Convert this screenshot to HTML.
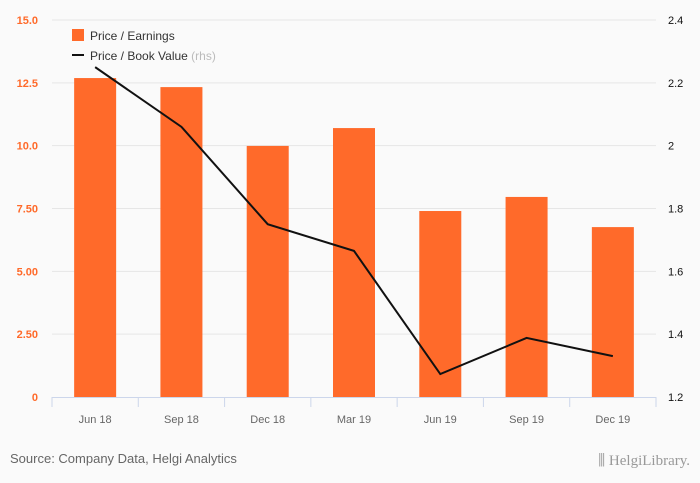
<!DOCTYPE html>
<html><head><meta charset="utf-8"><style>
html,body{margin:0;padding:0;background:#fafafa;}
svg{display:block;font-family:"Liberation Sans",sans-serif;}
</style></head><body>
<svg id="chart" width="700" height="483">
<rect width="700" height="483" fill="#fafafa"/>
<g id="grid"></g><g id="bars"></g><g id="line"></g><g id="axes"></g>
<g>
<rect x="72" y="29" width="12" height="12" fill="#ff6a2a"/>
<text x="90" y="40" font-size="12" fill="#333">Price / Earnings</text>
<line x1="72" y1="55" x2="84" y2="55" stroke="#111" stroke-width="2"/>
<text x="90" y="60" font-size="12" fill="#333">Price / Book Value <tspan fill="#bbb">(rhs)</tspan></text>
</g>
<text x="10" y="463" font-size="13" fill="#666">Source: Company Data, Helgi Analytics</text>
<text x="690" y="465" font-size="15" fill="#999" text-anchor="end" font-family="Liberation Serif,serif">⫼ HelgiLibrary.</text>
</svg>
<script>
const categories=["Jun 18","Sep 18","Dec 18","Mar 19","Jun 19","Sep 19","Dec 19"];
const peValues=[12.69,12.33,9.99,10.70,7.40,7.96,6.76];
const pbValues=[2.25,2.06,1.75,1.665,1.273,1.388,1.33];
const leftTicks=["0","2.50","5.00","7.50","10.0","12.5","15.0"];
const rightTicks=["1.2","1.4","1.6","1.8","2","2.2","2.4"];
const NS="http://www.w3.org/2000/svg";
const x0=52,x1=656,yTop=20,yBot=397;
const cw=(x1-x0)/categories.length;
const xc=i=>x0+cw*(i+0.5);
const yL=v=>yBot-(v/15)*(yBot-yTop);
const yR=v=>yBot-((v-1.2)/1.2)*(yBot-yTop);
function mk(t,a,p){const e=document.createElementNS(NS,t);for(const k in a)e.setAttribute(k,a[k]);p.appendChild(e);return e;}
const grid=document.getElementById('grid'),bars=document.getElementById('bars'),line=document.getElementById('line'),axes=document.getElementById('axes');
leftTicks.forEach((t,i)=>{const y=yBot-i*(yBot-yTop)/6;
 if(i>0){const g=mk('line',{x1:x0,x2:x1,y1:y,y2:y,stroke:'#e6e6e6','stroke-width':1},grid);
 
 }
 const l=mk('text',{x:38,y:y+4,'font-size':11,fill:'#ff6a2a','text-anchor':'end','font-weight':'bold'},axes);l.textContent=t;
 
 
 const r=mk('text',{x:668,y:y+4,'font-size':11,fill:'#111'},axes);r.textContent=rightTicks[i];
 
 
});
const ax=mk('line',{x1:x0,x2:x1,y1:yBot+0.5,y2:yBot+0.5,stroke:'#ccd6eb'},axes);


for(let i=0;i<=categories.length;i++){const x=x0+cw*i;const tk=mk('line',{x1:x,x2:x,y1:yBot,y2:yBot+10,stroke:'#ccd6eb'},axes);
 
 }
categories.forEach((c,i)=>{
 const b=mk('rect',{x:xc(i)-21,y:yL(peValues[i]),width:42,height:yBot-yL(peValues[i]),fill:'#ff6a2a'},bars);
 
 
 const t=mk('text',{x:xc(i),y:yBot+26,'font-size':11,fill:'#666','text-anchor':'middle'},axes);t.textContent=c;
 
 
});
const pts=pbValues.map((v,i)=>xc(i)+','+yR(v)).join(' ');
const pl=mk('polyline',{points:pts,fill:'none',stroke:'#111','stroke-width':2},line);


</script>
</body></html>
